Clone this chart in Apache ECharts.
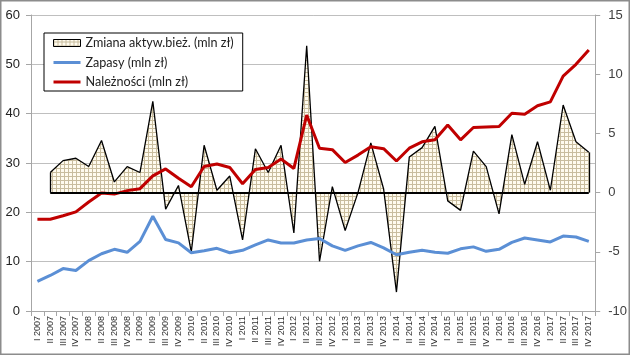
<!DOCTYPE html>
<html><head><meta charset="utf-8">
<script src="https://cdn.jsdelivr.net/npm/echarts@6/dist/echarts.min.js"></script>
<style>html,body{margin:0;padding:0;background:#fff}#c{width:630px;height:355px}</style>
</head><body><div id="c"></div>
<script>
const categories = [
  'I 2007','II 2007','III 2007','IV 2007',
  'I 2008','II 2008','III 2008','IV 2008',
  'I 2009','II 2009','III 2009','IV 2009',
  'I 2010','II 2010','III 2010','IV 2010',
  'I 2011','II 2011','III 2011','IV 2011',
  'I 2012','II 2012','III 2012','IV 2012',
  'I 2013','II 2013','III 2013','IV 2013',
  'I 2014','II 2014','III 2014','IV 2014',
  'I 2015','II 2015','III 2015','IV 2015',
  'I 2016','II 2016','III 2016','IV 2016',
  'I 2017','II 2017','III 2017','IV 2017'
];
const zmiana = [
  null, 1.7, 2.7, 2.9,
  2.2, 4.4, 0.9, 2.2,
  1.7, 7.7, -1.4, 0.6,
  -5.0, 4.0, 0.2, 1.4,
  -4.0, 3.7, 1.7, 4.0,
  -3.4, 12.4, -5.8, 0.5,
  -3.2, 0.0, 4.2, 0.3,
  -8.4, 3.0, 3.8, 5.6,
  -0.7, -1.5, 3.5, 2.2,
  -1.8, 4.9, 0.7, 4.3,
  0.2, 7.4, 4.3, 3.4
];
const zapasy = [
  6.0, 7.2, 8.6, 8.2,
  10.2, 11.6, 12.5, 11.9,
  14.1, 19.2, 14.5, 13.8,
  11.8, 12.2, 12.7, 11.8,
  12.3, 13.4, 14.4, 13.8,
  13.8, 14.4, 14.7, 13.2,
  12.3, 13.2, 13.9, 12.8,
  11.4, 11.9, 12.3, 11.9,
  11.7, 12.6, 13.0, 12.1,
  12.5, 13.9, 14.8, 14.4,
  14.0, 15.2, 15.0, 14.1
];
const naleznosci = [
  18.6, 18.6, 19.3, 20.1,
  22.1, 23.9, 23.7, 24.4,
  24.8, 27.4, 28.8, 26.9,
  25.2, 29.3, 29.8, 29.1,
  25.8, 28.7, 29.1, 30.8,
  28.9, 39.7, 33.0, 32.7,
  30.1, 31.6, 33.3, 32.9,
  30.4, 33.0, 34.3, 34.7,
  37.7, 34.7, 37.2, 37.3,
  37.4, 40.1, 39.9, 41.6,
  42.4, 47.6, 50.0, 52.9
];
const seriesNames = ['Zmiana aktyw.bież. (mln zł)', 'Zapasy (mln zł)', 'Należności (mln zł)'];
const leftTicks = {min: 0, max: 60, interval: 10};
const rightTicks = {min: -10, max: 15, interval: 5};

const pc = document.createElement('canvas');
pc.width = 4; pc.height = 4;
const pctx = pc.getContext('2d');
pctx.fillStyle = '#fffbee'; pctx.fillRect(0, 0, 4, 4);
pctx.fillStyle = '#c9bd9e'; pctx.fillRect(0, 0, 4, 1); pctx.fillRect(0, 0, 1, 4);
const pattern = {image: pc, repeat: 'repeat'};

const firstIdx = zmiana.findIndex(v => v !== null);
const lastIdx = zmiana.length - 1;

const chart = echarts.init(document.getElementById('c'), null, {renderer: 'canvas'});
const axisGray = '#a6a6a6';
chart.setOption({
  animation: false,
  backgroundColor: '#fff',
  grid: {left: 31, right: 33, top: 15, bottom: 44, containLabel: false},
  legend: {
    orient: 'vertical', left: 44, top: 33,
    padding: [2, 9, 1, 9], itemGap: 3.5, itemWidth: 27, itemHeight: 11,
    borderColor: '#000', borderWidth: 1, backgroundColor: '#fff',
    textStyle: {fontFamily: 'Lato', fontSize: 12.6, color: '#222', lineHeight: 16},
    data: [
      {name: seriesNames[0], icon: 'path://M0,0H27V7H0Z', itemStyle: {color: pattern, borderColor: '#000', borderWidth: 1}},
      {name: seriesNames[1], icon: 'path://M0,0H27V3H0Z', itemStyle: {color: '#5b8fd5', borderWidth: 0}},
      {name: seriesNames[2], icon: 'path://M0,0H27V3H0Z', itemStyle: {color: '#c00000', borderWidth: 0}}
    ]
  },
  xAxis: {
    type: 'category', data: categories, boundaryGap: true,
    axisLine: {lineStyle: {color: axisGray}},
    axisTick: {show: true, length: 5, lineStyle: {color: axisGray}},
    axisLabel: {rotate: 90, interval: 0, hideOverlap: false, fontSize: 9, fontFamily: 'Liberation Sans', color: '#333', margin: 5}
  },
  yAxis: [
    {type: 'value', position: 'left', min: leftTicks.min, max: leftTicks.max, interval: leftTicks.interval,
     axisLine: {show: true, lineStyle: {color: axisGray}},
     axisTick: {show: true, length: 5, lineStyle: {color: axisGray}},
     axisLabel: {fontSize: 13, fontFamily: 'Liberation Sans', color: '#222', margin: 11},
     splitLine: {show: true, lineStyle: {color: '#bfbfbf', width: 1}}},
    {type: 'value', position: 'right', min: rightTicks.min, max: rightTicks.max, interval: rightTicks.interval,
     axisLine: {show: true, lineStyle: {color: axisGray}},
     axisTick: {show: true, length: 5, lineStyle: {color: axisGray}},
     axisLabel: {fontSize: 13, fontFamily: 'Liberation Sans', color: '#404040', margin: 13},
     splitLine: {show: false}}
  ],
  series: [
    {
      name: seriesNames[0], type: 'line', yAxisIndex: 1, data: zmiana,
      symbol: 'none', z: 2,
      lineStyle: {color: '#000', width: 1.3},
      itemStyle: {color: '#000'},
      areaStyle: {color: pattern, opacity: 1, origin: 0},
      markLine: {
        silent: true, symbol: ['none', 'none'], label: {show: false},
        lineStyle: {color: '#000', width: 2, type: 'solid'},
        emphasis: {disabled: true},
        data: [
          [{coord: [firstIdx, 0]}, {coord: [lastIdx, 0]}],
          [{coord: [firstIdx, 0], lineStyle: {width: 1.3}}, {coord: [firstIdx, zmiana[firstIdx]]}],
          [{coord: [lastIdx, 0], lineStyle: {width: 1.3}}, {coord: [lastIdx, zmiana[lastIdx]]}]
        ]
      }
    },
    {
      name: seriesNames[1], type: 'line', yAxisIndex: 0, data: zapasy,
      symbol: 'none', z: 3,
      lineStyle: {color: '#5b8fd5', width: 3},
      itemStyle: {color: '#5b8fd5'}
    },
    {
      name: seriesNames[2], type: 'line', yAxisIndex: 0, data: naleznosci,
      symbol: 'none', z: 4,
      lineStyle: {color: '#c00000', width: 3},
      itemStyle: {color: '#c00000'}
    }
  ],
  graphic: [{
    type: 'rect', silent: true, z: 100,
    shape: {x: 0.75, y: 0.75, width: 628.5, height: 353.5},
    style: {fill: 'none', stroke: '#8c8c8c', lineWidth: 1.5}
  }]
});
</script></body></html>
